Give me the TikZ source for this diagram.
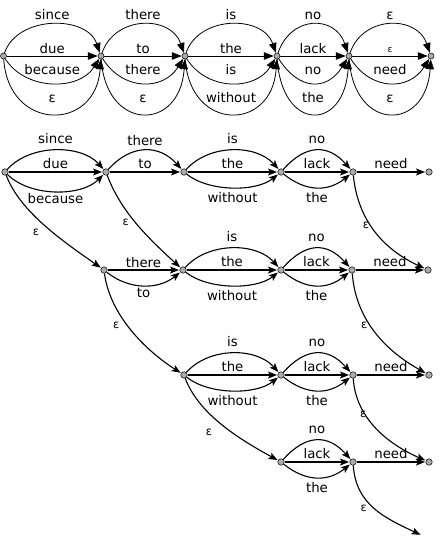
\documentclass[tikz,border=0pt]{standalone}
\usepackage{fontspec}
\setmainfont{DejaVu Sans}
\usetikzlibrary{arrows.meta}
\newcommand\tblk[6]{%
  \draw[ta] (#1) .. controls +(14,-41) and +(-14,-41) .. (#2) node[tl,pos=0.5,yshift=4.5pt]{#3};
  \draw[ta] (#1) -- (#2) node[tl,pos=0.5,yshift=3pt]{#4};
  \draw[ta] (#1) .. controls +(22,35) and +(-22,35) .. (#2) node[tl,pos=0.5,yshift=8pt]{#5};
  \draw[ta] (#1) .. controls +(5,76) and +(-5,76) .. (#2) node[tl,pos=0.5,yshift=11pt]{#6};
}
\newcommand\lblk[5]{%
  \draw[la] (#1) .. controls +(25,-28) and +(-25,-28) .. (#2) node[tl,pos=0.5,yshift=7pt]{#3};
  \draw[la] (#1) -- (#2) node[tl,pos=0.5,yshift=4pt]{#4};
  \draw[la] (#1) .. controls +(25,20) and +(-25,20) .. (#2) node[tl,pos=0.5,yshift=-15pt]{#5};
}
\begin{document}
\begin{tikzpicture}[x=1pt,y=-1pt,
  st/.style={circle,draw,line width=0.5pt,fill=black!33,inner sep=0pt,minimum size=6.5pt},
  tst/.style={st,minimum size=6pt},
  ta/.style={line width=0.8pt,-{Triangle[length=10pt,width=7.5pt]}},
  la/.style={line width=1.1pt,-{Stealth[length=9pt,width=7pt,inset=2pt]},shorten >=0.5pt},
  tl/.style={font=\fontsize{13.3}{15}\selectfont,anchor=base,inner sep=0pt},
  el/.style={font=\fontsize{11.5}{13}\selectfont,inner sep=0pt},
]
\useasboundingbox (0,0) rectangle (444,536);
% ---------- top lattice ----------
\node[tst] (t0) at (3.5,56) {};
\node[tst] (t1) at (101,56) {};
\node[tst] (t2) at (185,56) {};
\node[tst] (t3) at (277,56) {};
\node[tst] (t4) at (349,56) {};
\node[tst] (t5) at (431,56) {};
\tblk{t0}{t1}{since}{due}{because}{ε}
\tblk{t1}{t2}{there}{to}{there}{ε}
\tblk{t2}{t3}{is}{the}{is}{without}
\tblk{t3}{t4}{no}{lack}{no}{the}
\draw[ta] (t4) .. controls +(14,-41) and +(-14,-41) .. (t5) node[tl,pos=0.5,yshift=4.5pt]{ε};
\draw[ta] (t4) -- (t5) node[tl,pos=0.5,yshift=4pt,font=\fontsize{9}{10}\selectfont]{ε};
\draw[ta] (t4) .. controls +(22,35) and +(-22,35) .. (t5) node[tl,pos=0.5,yshift=8pt]{need};
\draw[ta] (t4) .. controls +(5,76) and +(-5,76) .. (t5) node[tl,pos=0.5,yshift=11pt]{ε};
% ---------- lower graph ----------
\node[st] (A0) at (5,172) {};
\node[st] (A1) at (106,172) {};
\node[st] (A2) at (184,172) {};
\node[st] (A3) at (281,172) {};
\node[st] (A4) at (353,172) {};
\node[st] (A5) at (429,172) {};
\node[st] (B1) at (104,270) {};
\node[st] (B2) at (183,270) {};
\node[st] (B3) at (281,270) {};
\node[st] (B4) at (352,270) {};
\node[st] (B5) at (428,270) {};
\node[st] (C2) at (184,375) {};
\node[st] (C3) at (281,375) {};
\node[st] (C4) at (353,375) {};
\node[st] (C5) at (429,375) {};
\node[st] (D3) at (281,462) {};
\node[st] (D4) at (353,462) {};
\node[st] (D5) at (429,462) {};
\coordinate (E) at (421,535);
% row A
\draw[la] (A0) .. controls +(25,-28) and +(-25,-28) .. (A1) node[tl,pos=0.5,yshift=7pt]{since};
\draw[la] (A0) -- (A1) node[tl,pos=0.5,yshift=4pt]{due};
\draw[la] (A0) .. controls +(25,25) and +(-25,25) .. (A1) node[tl,pos=0.5,yshift=-12pt]{because};
\draw[la] (A1) .. controls +(25,-28) and +(-25,-28) .. (A2) node[tl,pos=0.5,yshift=5pt]{there};
\draw[la] (A1) -- (A2) node[tl,pos=0.5,yshift=4pt]{to};
\lblk{A2}{A3}{is}{the}{without}
\lblk{A3}{A4}{no}{lack}{the}
\draw[la] (A4) -- (A5) node[tl,pos=0.5,yshift=4pt]{need};
% row B
\draw[la] (B1) -- (B2) node[tl,pos=0.5,yshift=3pt]{there};
\draw[la] (B1) .. controls +(25,20) and +(-25,20) .. (B2) node[tl,pos=0.5,yshift=-12pt]{to};
\lblk{B2}{B3}{is}{the}{without}
\lblk{B3}{B4}{no}{lack}{the}
\draw[la] (B4) -- (B5) node[tl,pos=0.5,yshift=4pt]{need};
% row C
\lblk{C2}{C3}{is}{the}{without}
\lblk{C3}{C4}{no}{lack}{the}
\draw[la] (C4) -- (C5) node[tl,pos=0.5,yshift=4pt]{need};
% row D
\lblk{D3}{D4}{no}{lack}{the}
\draw[la] (D4) -- (D5) node[tl,pos=0.5,yshift=4pt]{need};
% epsilon edges
\draw[la] (A0) .. controls (20,212) and (64,242) .. (B1) node[el,pos=0.5,xshift=-9pt,yshift=-6.5pt]{ε};
\draw[la] (A1) .. controls (121,212) and (148,238) .. (B2) node[el,pos=0.5,xshift=-11pt,yshift=2pt]{ε};
\draw[la] (B1) .. controls (110,315) and (145,350) .. (C2) node[el,pos=0.5,xshift=-15pt,yshift=5pt]{ε};
\draw[la] (C2) .. controls (199,415) and (241,440) .. (D3) node[el,pos=0.5,xshift=-14pt,yshift=-7pt]{ε};
\draw[la] (A4) .. controls (358,222) and (385,250) .. (B5) node[el,pos=0.5,xshift=-10pt,yshift=7pt]{ε};
\draw[la] (B4) .. controls (356,322) and (388,352) .. (C5) node[el,pos=0.5,xshift=-12pt,yshift=8pt]{ε};
\draw[la] (C4) .. controls (356,420) and (390,445) .. (D5) node[el,pos=0.5,xshift=-14pt,yshift=15pt]{ε};
\draw[la] (D4) .. controls (356,505) and (385,518) .. (E) node[el,pos=0.5,xshift=-11pt]{ε};
\end{tikzpicture}
\end{document}
